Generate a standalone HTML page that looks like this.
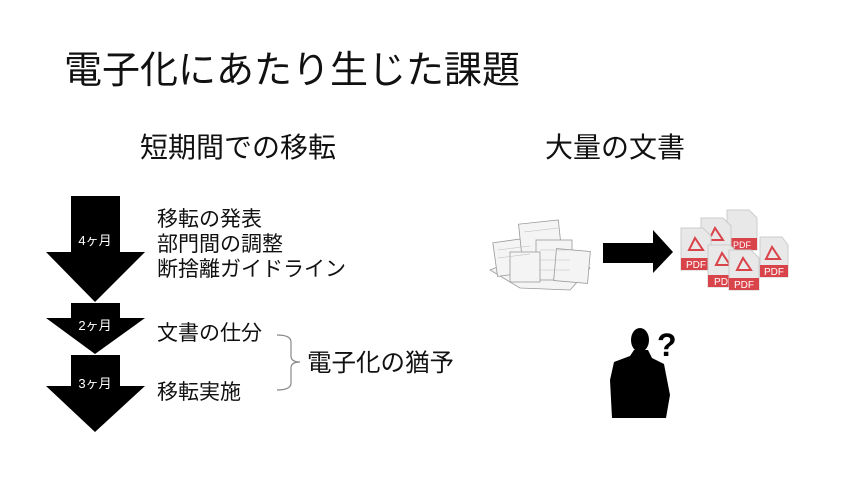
<!DOCTYPE html>
<html><head><meta charset="utf-8"><style>
html,body{margin:0;padding:0;background:#fff;}
svg{display:block;font-family:"Liberation Sans","Noto Sans CJK JP",sans-serif;}
</style></head><body>
<svg width="850" height="479" viewBox="0 0 850 479" xmlns="http://www.w3.org/2000/svg">
<rect width="850" height="479" fill="#fff"/>
<text x="64" y="83" font-size="38" fill="#111">電子化にあたり生じた課題</text>
<text x="140" y="157" font-size="28" fill="#111">短期間での移転</text>
<text x="545" y="157" font-size="28" fill="#111">大量の文書</text>

<polygon points="71,196 120,196 120,252 145,252 95,302 46,252 71,252" fill="#000"/>
<polygon points="71,303 120,303 120,318 145,318 95,354 46,318 71,318" fill="#000"/>
<polygon points="71,355 120,355 120,386 145,386 95,432 46,386 71,386" fill="#000"/>
<text x="95" y="245" font-size="13" fill="#fff" text-anchor="middle">4ヶ月</text>
<text x="95" y="330" font-size="13" fill="#fff" text-anchor="middle">2ヶ月</text>
<text x="95" y="388" font-size="13" fill="#fff" text-anchor="middle">3ヶ月</text>

<g font-size="21" fill="#111">
<text x="157" y="226">移転の発表</text>
<text x="157" y="251">部門間の調整</text>
<text x="157" y="276">断捨離ガイドライン</text>
<text x="157" y="340">文書の仕分</text>
<text x="157" y="399">移転実施</text>
</g>
<path d="M277,335 Q291,335 291,342 L291,356 Q291,362 300,362 Q291,362 291,368 L291,383 Q291,390 277,390" fill="none" stroke="#888" stroke-width="1.2"/>
<text x="307" y="371" font-size="24.5" fill="#111">電子化の猶予</text>

<!-- paper pile -->
<g fill="#f4f4f4" stroke="#999" stroke-width="0.8">
<path d="M490,270 L520,258 L560,262 L590,268 L570,290 L520,288 Z"/>
<rect x="495" y="240" width="38" height="34" transform="rotate(-8 514 257)"/>
<rect x="520" y="222" width="40" height="30" transform="rotate(-6 540 237)"/>
<rect x="536" y="240" width="36" height="40"/>
<rect x="555" y="250" width="34" height="32" transform="rotate(5 572 266)"/>
<rect x="510" y="252" width="30" height="30"/>
</g>
<g stroke="#bbb" stroke-width="0.6">
<line x1="498" y1="250" x2="530" y2="246"/><line x1="498" y1="258" x2="530" y2="254"/><line x1="540" y1="250" x2="570" y2="250"/><line x1="540" y1="260" x2="570" y2="260"/><line x1="540" y1="270" x2="570" y2="270"/><line x1="524" y1="232" x2="558" y2="228"/>
</g>

<polygon points="603,243 653,243 653,230 673,252 653,273 653,263 603,263" fill="#000"/>

<!-- PDF icons -->
<g>
<g transform="translate(727,210)"><path d="M0,0 H22 L30,8 V40 H0 Z" fill="#e8e8e8" stroke="#ccc"/><rect x="0" y="28" width="30" height="12" fill="#d9434a"/><text x="15" y="38" font-size="9" fill="#fff" text-anchor="middle">PDF</text></g>
<g transform="translate(701,218)"><path d="M0,0 H22 L30,8 V40 H0 Z" fill="#e8e8e8" stroke="#ccc"/><path d="M8,22 L14,10 L22,22 Z" fill="none" stroke="#d9434a" stroke-width="2"/></g>
<g transform="translate(681,228)"><path d="M0,0 H22 L30,8 V42 H0 Z" fill="#e8e8e8" stroke="#ccc"/><path d="M8,22 L14,10 L22,22 Z" fill="none" stroke="#d9434a" stroke-width="2"/><rect x="0" y="30" width="30" height="12" fill="#d9434a"/><text x="15" y="40" font-size="10" fill="#fff" text-anchor="middle">PDF</text></g>
<g transform="translate(760,237)"><path d="M0,0 H22 L28,8 V40 H0 Z" fill="#e8e8e8" stroke="#ccc"/><path d="M6,22 L12,10 L20,22 Z" fill="none" stroke="#d9434a" stroke-width="2"/><rect x="0" y="28" width="28" height="12" fill="#d9434a"/><text x="14" y="38" font-size="10" fill="#fff" text-anchor="middle">PDF</text></g>
<g transform="translate(708,245)"><path d="M0,0 H22 L30,8 V42 H0 Z" fill="#e8e8e8" stroke="#ccc"/><path d="M8,20 L14,8 L22,20 Z" fill="none" stroke="#d9434a" stroke-width="2"/><rect x="0" y="30" width="30" height="12" fill="#d9434a"/><text x="13" y="40" font-size="10" fill="#fff" text-anchor="middle">PD</text></g>
<g transform="translate(729,250)"><path d="M0,0 H22 L30,8 V40 H0 Z" fill="#e8e8e8" stroke="#ccc"/><path d="M8,20 L14,8 L22,20 Z" fill="none" stroke="#d9434a" stroke-width="2"/><rect x="0" y="28" width="30" height="12" fill="#d9434a"/><text x="15" y="38" font-size="10" fill="#fff" text-anchor="middle">PDF</text></g>
</g>

<!-- person -->
<g fill="#000">
<ellipse cx="640" cy="340" rx="9" ry="12"/>
<path d="M634,350 L648,350 L652,358 L664,364 L670,395 L666,418 L612,418 L610,380 L614,362 L630,356 Z"/>
<text x="657" y="356" font-size="32" font-weight="bold">?</text>
</g>
</svg>
</body></html>
